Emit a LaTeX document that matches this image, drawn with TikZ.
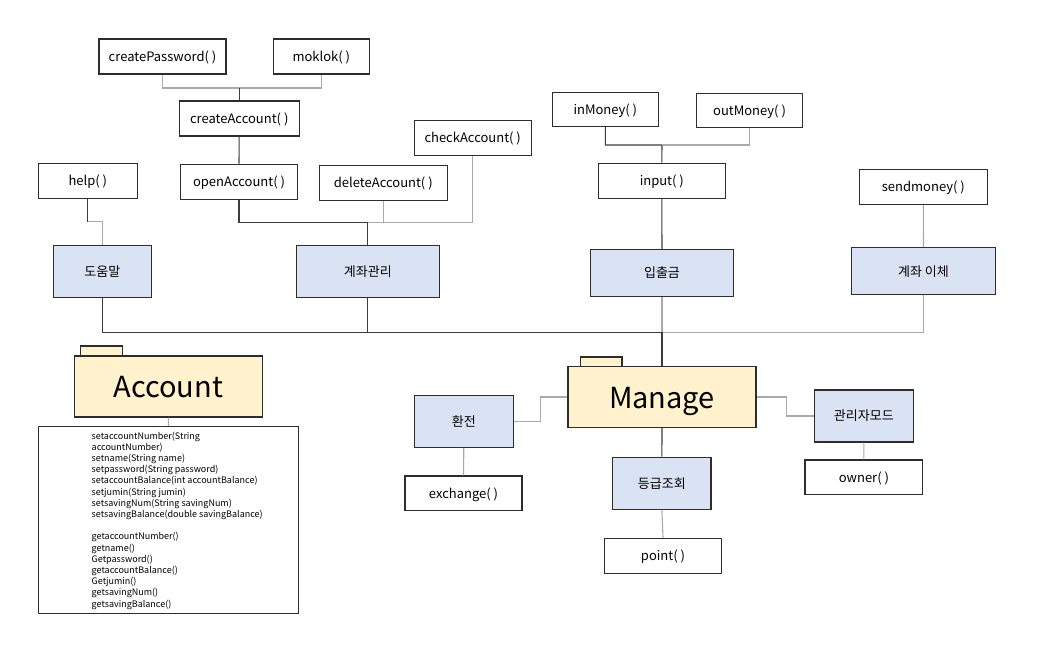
\documentclass[tikz,border=0pt]{standalone}
\usepackage{fontspec}
\setmainfont{Noto Sans CJK KR}
\definecolor{bluefill}{RGB}{218,227,243}
\definecolor{yellowfill}{RGB}{255,242,204}
\definecolor{boxline}{RGB}{45,45,45}
\definecolor{darkline}{RGB}{60,60,60}
\definecolor{lightline}{RGB}{170,170,170}
\tikzset{
  box/.style={draw=boxline, line width=1.15pt, fill=white, inner sep=0pt, font=\fontsize{13}{15}\selectfont},
  func/.style={box, text height=10.6pt, text depth=0.6pt},
  cat/.style={box, fill=bluefill},
  pkg/.style={box, fill=yellowfill, font=\fontsize{29}{34}\selectfont, text height=22pt, text depth=0pt},
  tab/.style={draw=boxline, line width=1.15pt, fill=yellowfill, inner sep=0pt},
  dk/.style={draw=darkline, line width=1.1pt},
  lt/.style={draw=lightline, line width=1.1pt},
}
\begin{document}
\begin{tikzpicture}[x=1pt,y=-1pt]
\useasboundingbox (0,0) rectangle (1052,657);
% top-left group
\node[func, minimum width=127, minimum height=35] (createPassword) at (162.5,56.5) {createPassword( )};
\node[func, minimum width=96, minimum height=35] (moklok) at (321.3,56.5) {moklok( )};
\node[func, minimum width=120, minimum height=35] (createAccount) at (239.2,118.5) {createAccount( )};
\node[func, minimum width=117, minimum height=35] (openAccount) at (239,181.7) {openAccount( )};
\node[func, minimum width=99, minimum height=35] (help) at (87.8,180.8) {help( )};
\node[func, minimum width=128, minimum height=35] (deleteAccount) at (383.3,182.7) {deleteAccount( )};
\node[func, minimum width=117, minimum height=35] (checkAccount) at (472.7,137.7) {checkAccount( )};
\node[cat, minimum width=98, minimum height=52] (domum) at (102.3,271.3) {도움말};
\node[cat, minimum width=143, minimum height=52] (gyejwa) at (367.8,271.3) {계좌관리};
% top-right group
\node[func, minimum width=106, minimum height=34] (inMoney) at (605.3,109.5) {inMoney( )};
\node[func, minimum width=106, minimum height=34] (outMoney) at (749.5,110.2) {outMoney( )};
\node[func, minimum width=127, minimum height=35] (input) at (661.8,180.8) {input( )};
\node[cat, minimum width=143, minimum height=47] (ipchul) at (662,273) {입출금};
\node[func, minimum width=128, minimum height=35] (sendmoney) at (923.3,186.7) {sendmoney( )};
\node[cat, minimum width=144, minimum height=47] (iche) at (923.5,271.3) {계좌 이체};
% Account package
\node[tab, minimum width=41.6, minimum height=10] (accounttab) at (101.5,351) {};
\node[pkg, minimum width=188, minimum height=61] (Account) at (168.3,386.5) {Account};
\node[box, minimum width=259.6, minimum height=186.6] (methods) at (168.5,520) {};
\node[anchor=north west, inner sep=0pt, align=left, font=\fontsize{9}{11.2}\selectfont] (methodtext) at (91.5,431.5) {%
setaccountNumber(String\\
accountNumber)\\
setname(String name)\\
setpassword(String password)\\
setaccountBalance(int accountBalance)\\
setjumin(String jumin)\\
setsavingNum(String savingNum)\\
setsavingBalance(double savingBalance)\\[11.2pt]
getaccountNumber()\\
getname()\\
Getpassword()\\
getaccountBalance()\\
Getjumin()\\
getsavingNum()\\
getsavingBalance()};
% Manage package
\node[tab, minimum width=41.7, minimum height=9.7] (managetab) at (601.2,361.9) {};
\node[pkg, minimum width=188, minimum height=60.6] (Manage) at (662,397) {Manage};
\node[cat, minimum width=99, minimum height=51.6] (hwan) at (463.8,421.5) {환전};
\node[func, minimum width=117, minimum height=34.3] (exchange) at (463.5,493.2) {exchange( )};
\node[cat, minimum width=98.3, minimum height=52] (grade) at (661.9,483.3) {등급조회};
\node[func, minimum width=117.4, minimum height=35] (point) at (663,555.8) {point( )};
\node[cat, minimum width=99, minimum height=52] (admin) at (863.8,416) {관리자모드};
\node[func, minimum width=117.7, minimum height=34.3] (owner) at (863.9,477.2) {owner( )};
% junctions
\coordinate (b1) at (239.2,88);
\coordinate (hb) at (87.8,221.7);
\coordinate (b2) at (367.8,222.3);
\coordinate (b3) at (662,332.3);
\coordinate (b4) at (662,145);
% connectors: account management
\draw[lt] (createPassword.south) |- (b1) -| (moklok.south);
\draw[dk] (b1) -- (createAccount.north);
\draw[dk] (createAccount.south) -- (openAccount.north);
\draw[dk] (help.south) -- (hb);
\draw[lt] (hb) -| (domum.north);
\draw[dk] (openAccount.south) |- (b2) -- (gyejwa.north);
\draw[lt] (b2) -| (checkAccount.south);
\draw[lt] (deleteAccount.south) -- (deleteAccount.south |- b2);
% connectors: money
\draw[dk] (inMoney.south) |- (b4) -- (input.north);
\draw[lt] (b4) -| (outMoney.south);
\draw[dk] (input.south) -- (ipchul.north);
\draw[lt] (sendmoney.south) -- (iche.north);
% main bus
\draw[lt] (ipchul.south) -- (b3);
\draw[lt] (b3) -| (iche.south);
\draw[dk] (domum.south) |- (b3) -- (Manage.north);
\draw[dk] (gyejwa.south) -- (gyejwa.south |- b3);
% Account
\draw[lt] (Account.south) -- (methods.north);
% Manage children
\draw[lt] (Manage.west) -- ++(-27.3,0) |- (hwan.east);
\draw[lt] (Manage.east) -- ++(29.7,0) |- (admin.west);
\draw[dk] (Manage.south) -- (grade.north);
\draw[lt] (grade.south) -- (point.north);
\draw[lt] (hwan.south) -- (exchange.north);
\draw[lt] (admin.south) -- (owner.north);
\end{tikzpicture}
\end{document}
